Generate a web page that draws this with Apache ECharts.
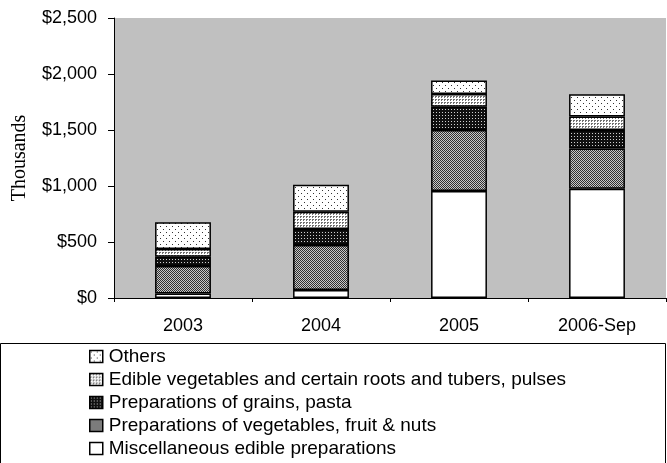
<!DOCTYPE html>
<html><head><meta charset="utf-8">
<script src="https://cdn.jsdelivr.net/npm/echarts@6/dist/echarts.min.js"></script>
<style>html,body{margin:0;padding:0;background:#fff}#c{width:667px;height:463px}</style>
</head><body><div id="c"></div>
<script>
const categories = ['2003', '2004', '2005', '2006-Sep'];
const seriesNames = ['Miscellaneous edible preparations', 'Preparations of vegetables, fruit & nuts', 'Preparations of grains, pasta', 'Edible vegetables and certain roots and tubers, pulses', 'Others'];
const misc = [40, 71, 955, 975];
const prepVeg = [246, 402, 545, 360];
const grains = [83, 143, 208, 165];
const edible = [68, 154, 113, 120];
const others = [240, 242, 120, 200];
const yTicks = [0, 500, 1000, 1500, 2000, 2500];

function pat(w, h, bg, fg, pts) {
  const c = document.createElement('canvas');
  c.width = w; c.height = h;
  const g = c.getContext('2d');
  g.fillStyle = bg; g.fillRect(0, 0, w, h);
  g.fillStyle = fg;
  pts.forEach(p => g.fillRect(p[0], p[1], 1, 1));
  return { image: c, repeat: 'repeat' };
}
const fills = [
  '#ffffff',
  pat(2, 2, '#c8c8c8', '#303030', [[0,0],[1,1]]),
  pat(3, 3, '#111111', '#d0d0d0', [[1,1]]),
  pat(3, 3, '#ffffff', '#707070', [[0,0],[1,0],[0,1]]),
  pat(6, 6, '#ffffff', '#333333', [[1,1],[4,4]])
];
const dataArr = [misc, prepVeg, grains, edible, others];

const series = dataArr.map((d, i) => ({
  name: seriesNames[i],
  type: 'bar',
  stack: 'total',
  barWidth: '40.5%',
  data: d,
  itemStyle: { color: fills[i], borderColor: '#000', borderWidth: 1.5 },
  emphasis: { disabled: true }
}));

const chart = echarts.init(document.getElementById('c'));
chart.setOption({
  animation: false,
  backgroundColor: '#fff',
  grid: { left: 114, right: 1, top: 18, bottom: 165, show: true, backgroundColor: '#c0c0c0', borderWidth: 0 },
  xAxis: {
    type: 'category', data: categories,
    axisLine: { lineStyle: { color: '#000', width: 1 } },
    axisTick: { show: true, length: 4, lineStyle: { color: '#000' } },
    axisLabel: { color: '#000', fontFamily: 'Liberation Sans, Arial', fontSize: 18, margin: 19 }
  },
  yAxis: {
    type: 'value', min: yTicks[0], max: yTicks[yTicks.length - 1], interval: 500,
    name: 'Thousands', nameLocation: 'middle', nameGap: 84,
    nameTextStyle: { color: '#000', fontFamily: 'Liberation Serif, Times New Roman', fontSize: 20 },
    axisLine: { show: true, lineStyle: { color: '#000', width: 1 } },
    axisTick: { show: true, length: 6, inside: false, lineStyle: { color: '#000' } },
    splitLine: { show: false },
    axisLabel: {
      color: '#000', fontFamily: 'Liberation Sans, Arial', fontSize: 18, margin: 17,
      formatter: v => '$' + v.toLocaleString('en-US')
    }
  },
  legend: {
    orient: 'vertical', left: 89, top: 347, height: 120, padding: 0,
    data: seriesNames.slice().reverse(),
    itemWidth: 13, itemHeight: 12, itemGap: 4,
    icon: 'rect',
    itemStyle: { borderColor: '#000', borderWidth: 1.5 },
    textStyle: { color: '#000', fontFamily: 'Liberation Sans, Arial', fontSize: 19, lineHeight: 19, padding: [0, 0, 0, 1] },
    selectedMode: false
  },
  graphic: [{
    type: 'rect', shape: { x: 0.5, y: 343.5, width: 665, height: 130 },
    style: { fill: null, stroke: '#000', lineWidth: 1 }, silent: true
  }],
  series: series
});
</script></body></html>
